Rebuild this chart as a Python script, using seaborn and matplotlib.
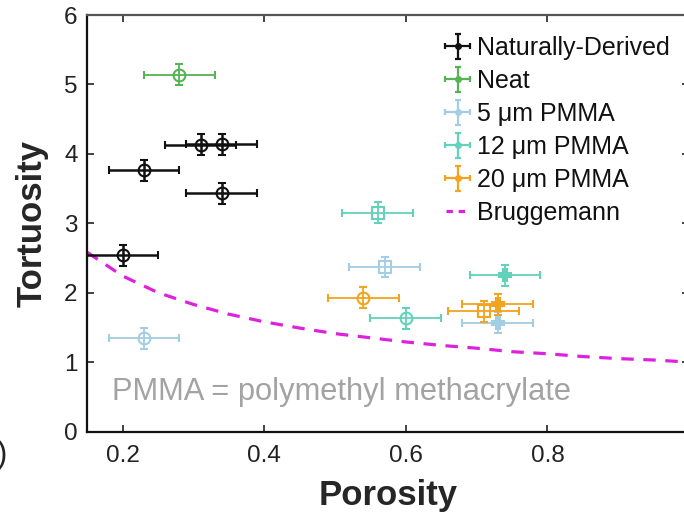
import numpy as np
import pandas as pd
import matplotlib
matplotlib.use("Agg")
import matplotlib.pyplot as plt
import seaborn as sns
from matplotlib.lines import Line2D

# ---- data ----
series_names = ["Naturally-Derived", "Neat", "5 \u03bcm PMMA", "12 \u03bcm PMMA", "20 \u03bcm PMMA"]
series_colors = ["#111111", "#55b255", "#a3cde3", "#62d2bb", "#f2a41e"]

nat_x = [0.31, 0.34, 0.23, 0.34, 0.20]
nat_y = [4.13, 4.14, 3.76, 3.43, 2.54]
neat_x = [0.28]
neat_y = [5.14]
p5_x = [0.23, 0.57, 0.73]
p5_y = [1.34, 2.37, 1.57]
p12_x = [0.56, 0.60, 0.74]
p12_y = [3.15, 1.63, 2.25]
p20_x = [0.54, 0.71, 0.73]
p20_y = [1.93, 1.73, 1.83]

x_err = 0.05
y_err = 0.15

brug_x = [0.15, 0.20, 0.25, 0.30, 0.35, 0.40, 0.45, 0.50, 0.55, 0.60,
          0.65, 0.70, 0.75, 0.80, 0.85, 0.90, 0.95, 1.00]
brug_y = [2.58, 2.24, 2.00, 1.83, 1.69, 1.58, 1.49, 1.41, 1.35, 1.29,
          1.24, 1.20, 1.15, 1.12, 1.08, 1.05, 1.03, 1.00]

xticks = [0.2, 0.4, 0.6, 0.8, 1.0]
xtick_labels = ["0.2", "0.4", "0.6", "0.8", "1"]
yticks = [0, 1, 2, 3, 4, 5, 6]

# ---- styling ----
sns.set_theme(style="ticks")
plt.rcParams["font.family"] = ["Liberation Sans", "DejaVu Sans"]

W, H = 684, 514
fig = plt.figure(figsize=(W / 100, H / 100), dpi=100)
left_px, right_px, bottom_px, top_px = 87.3, 689.0, 431.5, 15.0
ax = fig.add_axes([left_px / W, (H - bottom_px) / H,
                   (right_px - left_px) / W, (bottom_px - top_px) / H])

# Bruggemann line
bdf = pd.DataFrame({"Porosity": brug_x, "Tortuosity": brug_y})
sns.lineplot(data=bdf, x="Porosity", y="Tortuosity", ax=ax, color="#dd22dd",
             linewidth=2.3, dashes=False, zorder=1)
ax.lines[-1].set_dashes((3.9, 3.0))

all_x = [nat_x, neat_x, p5_x, p12_x, p20_x]
all_y = [nat_y, neat_y, p5_y, p12_y, p20_y]
marker_sets = [["o"] * 5, ["o"], ["o", "s", "P"], ["s", "o", "P"], ["o", "s", "P"]]

for i, (xs, ys) in enumerate(zip(all_x, all_y)):
    col = series_colors[i]
    lw = 1.8 if i == 0 else 1.3
    for j, (xv, yv) in enumerate(zip(xs, ys)):
        m = marker_sets[i][j]
        mfc = col if m == "P" else "none"
        ax.errorbar([xv], [yv], xerr=[x_err], yerr=[y_err], fmt=m, color=col,
                    mfc=mfc, mec=col, ms=8.5, mew=1.5, elinewidth=lw,
                    capsize=3, capthick=lw, zorder=3)

# legend proxies
handles = []
for i, name in enumerate(series_names):
    col = series_colors[i]
    h = ax.errorbar([np.nan], [np.nan], xerr=[x_err], yerr=[y_err], fmt="o",
                    color=col, ms=4, elinewidth=1.6, capsize=2.5, capthick=1.6,
                    label=name)
    handles.append(h)
bh = Line2D([], [], color="#dd22dd", lw=2.3, dashes=(2.0, 1.8), label="Bruggemann")
handles.append(bh)
leg = fig.legend(handles=handles, labels=series_names + ["Bruggemann"],
                 loc="upper left", bbox_to_anchor=(446 / W, (H - 36) / H),
                 frameon=False, fontsize=18, handlelength=0.95,
                 handletextpad=0.3, labelspacing=0.36, borderpad=0,
                 borderaxespad=0)
for t in leg.get_texts():
    t.set_color("#111111")

ax.text(0.185, 0.57, "PMMA = polymethyl methacrylate", color="#a3a3a3",
        fontsize=22.2, va="center", ha="left")

ax.set_xlim(0.15, 1.0)
ax.set_ylim(0, 6)
ax.set_xticks(xticks)
ax.set_xticklabels(xtick_labels)
ax.set_yticks(yticks)
ax.tick_params(direction="in", length=5, width=1.2, top=True, right=True,
               labelsize=17.5, colors="#222222", pad=7)
ax.tick_params(axis="x", pad=10)
for s in ["left", "bottom"]:
    ax.spines[s].set_linewidth(1.6)
    ax.spines[s].set_color("#111111")
for s in ["top", "right"]:
    ax.spines[s].set_linewidth(1.6)
    ax.spines[s].set_color("#555555")

ax.set_xlabel("Porosity", fontsize=25, fontweight="bold", labelpad=8)
ax.set_ylabel("Tortuosity", fontsize=25, fontweight="bold", labelpad=11)

fig.text(-0.004, 0.115, ")", fontsize=22, color="#222222", ha="left", va="center")

fig.savefig("out.png", dpi=100)
